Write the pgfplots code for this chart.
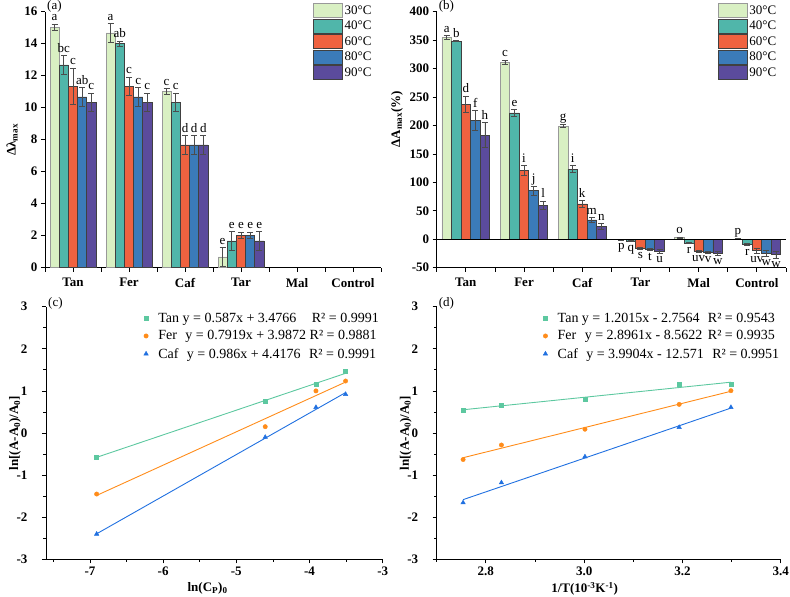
\documentclass[border=0pt]{standalone}
\usepackage{fontspec}
\setmainfont{Liberation Serif}
\usepackage{pgfplots}
\usepackage{pgfplotstable}
\pgfplotsset{compat=1.18}

\definecolor{tA}{HTML}{D9F0C3}
\definecolor{tB}{HTML}{50B6AA}
\definecolor{tC}{HTML}{EF6240}
\definecolor{tD}{HTML}{3B7BB9}
\definecolor{tE}{HTML}{5B4B9C}
\definecolor{cTan}{HTML}{5DC8A0}
\definecolor{cFer}{HTML}{FF8C1A}
\definecolor{cCaf}{HTML}{2070E0}

\newcommand{\fTick}{\fontsize{13}{15}\selectfont\bfseries}
\newcommand{\fText}{\fontsize{13}{15}\selectfont}
\newcommand{\fLeg}{\fontsize{14}{16}\selectfont}

% ---- (a) delta lambda max, one table per temperature
\pgfplotstableread{
x y e l
0 15.00 0.20 a
1 14.67 0.58 a
2 11.00 0.18 c
3 0.67 0.58 e
}\aA
\pgfplotstableread{
x y e l
0 12.67 0.58 bc
1 14.00 0.17 ab
2 10.33 0.58 c
3 1.67 0.58 e
}\aB
\pgfplotstableread{
x y e l
0 11.33 1.15 c
1 11.33 0.58 c
2 7.67 0.58 d
3 2.00 0.20 e
}\aC
\pgfplotstableread{
x y e l
0 10.67 0.58 ab
1 10.67 0.58 c
2 7.67 0.58 d
3 2.00 0.20 e
}\aD
\pgfplotstableread{
x y e l
0 10.33 0.58 c
1 10.33 0.58 c
2 7.67 0.58 d
3 1.67 0.58 e
}\aE

% ---- (b) delta A max (%)
\pgfplotstableread{
x y e l
0 355 3 a
1 311 4 c
2 199 3 g
3 -1 1 p
4 3 1 o
5 0.5 1 p
}\bA
\pgfplotstableread{
x y e l
0 348 1 b
1 222 6 e
2 123 6 i
3 -3 1 q
4 -7 1 r
5 -9 2 r
}\bB
\pgfplotstableread{
x y e l
0 237 14 d
1 121 8 i
2 62 6 k
3 -16 2 s
4 -21 2 uv
5 -20 4 uv
}\bC
\pgfplotstableread{
x y e l
0 209 17 f
1 85 8 j
2 34 4 m
3 -18 2 t
4 -23 2 v
5 -25 5 w
}\bD
\pgfplotstableread{
x y e l
0 183 22 h
1 60 7 l
2 22 5 n
3 -21 3 u
4 -25 3 w
5 -27 6 w
}\bE

% ---- (c) vs ln(Cp)0
\pgfplotstableread{
x tan fer caf
-6.908 -0.57 -1.45 -2.40
-4.605 0.76 0.15 -0.10
-3.912 1.16 1.00 0.61
-3.507 1.46 1.235 0.92
}\cDat
\pgfplotstableread{
x tan fer caf
-6.908 -0.578 -1.483 -2.394
-3.507 1.418 1.210 0.960
}\cFit

% ---- (d) vs 1/T
\pgfplotstableread{
x tan fer caf
2.7537 0.546 -0.63 -1.655
2.8317 0.665 -0.285 -1.18
3.0017 0.80 0.09 -0.563
3.1934 1.164 0.68 0.135
3.2987 1.157 1.005 0.61
}\dDat
\pgfplotstableread{
x tan fer caf
2.7537 0.552 -0.587 -1.583
3.2987 1.207 0.991 0.592
}\dFit

\pgfplotsset{
  base/.style={scale only axis, axis lines*=left, tick align=outside, clip=false,
    axis line style={line width=0.9pt},
    every tick/.style={black, line width=0.8pt},
    major tick length=4pt, minor tick length=2.5pt,
    tick label style={font=\fTick},
    label style={font=\fTick},
    /pgf/number format/assume math mode=true},
  bars/.style={base, xmin=-0.5, xmax=5.5, xtick={0,...,5},
    xticklabels={Tan,Fer,Caf,Tar,Mal,Control},
    minor xtick={-0.5,0.5,...,5.5}, minor tick length=4pt,
    xticklabel style={yshift=-3pt},
    error bars/error bar style={line width=0.8pt, black!70},
    error bars/error mark options={rotate=90, mark size=3pt, line width=0.8pt, black!70},
    legend style={draw=none, fill=none, font=\fText, inner sep=0pt, row sep=0.7pt,
      anchor=north west, nodes={inner xsep=1.5pt, inner ysep=0.5pt}},
    legend cell align=left},
  s1/.style={fill=tA, draw=black!40, line width=0.8pt},
  s2/.style={fill=tB, draw=black!75, line width=0.8pt},
  s3/.style={fill=tC, draw=black!75, line width=0.8pt},
  s4/.style={fill=tD, draw=black!75, line width=0.8pt},
  s5/.style={fill=tE, draw=black!75, line width=0.8pt},
  lines/.style={base, ymin=-3, ymax=3, ytick={-3,...,3}, minor y tick num=1,
    yticklabel style={xshift=-11pt},
    ylabel={ln[(A-A\textsubscript{0})/A\textsubscript{0}]},
    every axis y label/.style={at={([xshift=-31pt]rel axis cs:0,0.5)}, rotate=90,
      anchor=center, font=\fTick},
    legend style={draw=none, fill=none, font=\fLeg, inner sep=0pt, row sep=4.8pt,
      column sep=7pt, anchor=north west, nodes={inner xsep=3pt, inner ysep=1pt}},
    legend cell align=left},
}

% bars of one temperature plus the letters above / below the error bars
\newcommand{\barset}[3]{%
  \addplot[#3, ybar, bar width=0.164, bar shift=0pt,
    error bars/.cd, y dir=both, y explicit]
    table[x expr=\thisrow{x}+#2, y=y, y error=e] {#1};
  \addplot[draw=none, mark=none, forget plot, nodes near coords,
    point meta=explicit symbolic,
    visualization depends on={\thisrow{y} \as \yy},
    every node near coord/.append style={font=\fText, inner sep=0pt, anchor=center,
      text height=0.7em, text depth=0.2em,
      yshift={ifthenelse(\yy<0,-7,6)*1pt}}]
    table[x expr=\thisrow{x}+#2,
      y expr={\thisrow{y}+ifthenelse(\thisrow{y}<0,-1,1)*\thisrow{e}}, meta=l] {#1};
}

\begin{document}
\begin{tikzpicture}
\useasboundingbox (0pt,0pt) rectangle (790pt,597pt);

% (a)
\begin{axis}[bars, at={(45pt,329.3pt)}, anchor=south west, width=336pt, height=256pt,
  ymin=0, ymax=16, ytick={0,2,...,16},
  ylabel={Δλ\textsubscript{max}},
  legend image code/.code={\draw[#1] (0pt,-7pt) rectangle (29pt,7pt);},
  legend style={at={(rel axis cs:0.798,1.034)}}]
\barset{\aA}{(-0.328)}{s1}
\barset{\aB}{(-0.164)}{s2}
\barset{\aC}{0}{s3}
\barset{\aD}{0.164}{s4}
\barset{\aE}{0.328}{s5}
\legend{30°C,40°C,60°C,80°C,90°C}
\node[anchor=west, font=\fText, inner sep=0pt, yshift=5.5pt, xshift=2pt] at (rel axis cs:0,1) {(a)};
\end{axis}

% (b)
\begin{axis}[bars, at={(436.7pt,329.3pt)}, anchor=south west, width=349.3pt, height=256pt,
  ymin=-50, ymax=400, ytick={-50,0,...,400},
  ylabel={ΔA\textsubscript{max}(\%)},
  ylabel style={at={(ticklabel cs:0.58)}},
  legend image code/.code={\draw[#1] (0pt,-7pt) rectangle (29pt,7pt);},
  legend style={at={(rel axis cs:0.805,1.034)}}]
\barset{\bA}{(-0.328)}{s1}
\barset{\bB}{(-0.164)}{s2}
\barset{\bC}{0}{s3}
\barset{\bD}{0.164}{s4}
\barset{\bE}{0.328}{s5}
\draw[line width=0.8pt] (axis cs:-0.5,0) -- (axis cs:5.5,0);
\legend{30°C,40°C,60°C,80°C,90°C}
\node[anchor=west, font=\fText, inner sep=0pt, yshift=5.5pt, xshift=2pt] at (rel axis cs:0,1) {(b)};
\end{axis}

% (c)
\begin{axis}[lines, at={(46pt,37.7pt)}, anchor=south west, width=336.7pt, height=252.6pt,
  xmin=-7.6, xmax=-3, xtick={-7,...,-3}, minor xtick={-7.5,-6.5,...,-3.5},
  xlabel={ln(C\textsubscript{P})\textsubscript{0}},
  xlabel style={at={(ticklabel cs:0.48)}},
  legend style={at={(rel axis cs:0.29,0.98)}}]
\addplot[only marks, mark=square*, mark size=2pt, cTan] table[x=x, y=tan] {\cDat};
\addplot[only marks, mark=*, mark size=2.2pt, cFer] table[x=x, y=fer] {\cDat};
\addplot[only marks, mark=triangle*, mark size=2.6pt, cCaf] table[x=x, y=caf] {\cDat};
\addplot[cTan, line width=0.9pt, forget plot] table[x=x, y=tan] {\cFit};
\addplot[cFer, line width=0.9pt, forget plot] table[x=x, y=fer] {\cFit};
\addplot[cCaf, line width=0.9pt, forget plot] table[x=x, y=caf] {\cFit};
\legend{Tan y = 0.587x + 3.4766\hspace{1.1em}R² = 0.9991,
        Fer\hspace{0.6em}y = 0.7919x + 3.9872 R² = 0.9881,
        Caf\hspace{0.6em}y = 0.986x + 4.4176\hspace{0.6em}R² = 0.9991}
\node[anchor=west, font=\fText, inner sep=0pt, yshift=3pt, xshift=2pt] at (rel axis cs:0,1) {(c)};
\end{axis}

% (d)
\begin{axis}[lines, at={(436.7pt,37.7pt)}, anchor=south west, width=344pt, height=252.6pt,
  xmin=2.7, xmax=3.4, xtick={2.8,3.0,3.2,3.4}, minor xtick={2.7,2.9,3.1,3.3},
  xticklabel style={/pgf/number format/.cd, fixed, fixed zerofill, precision=1},
  xlabel={1/T(10\textsuperscript{-3}K\textsuperscript{-1})},
  xlabel style={at={(ticklabel cs:0.43)}},
  legend style={at={(rel axis cs:0.309,0.98)}}]
\addplot[only marks, mark=square*, mark size=2pt, cTan] table[x=x, y=tan] {\dDat};
\addplot[only marks, mark=*, mark size=2.2pt, cFer] table[x=x, y=fer] {\dDat};
\addplot[only marks, mark=triangle*, mark size=2.6pt, cCaf] table[x=x, y=caf] {\dDat};
\addplot[cTan, line width=0.9pt, forget plot] table[x=x, y=tan] {\dFit};
\addplot[cFer, line width=0.9pt, forget plot] table[x=x, y=fer] {\dFit};
\addplot[cCaf, line width=0.9pt, forget plot] table[x=x, y=caf] {\dFit};
\legend{Tan y = 1.2015x - 2.7564\hspace{0.6em}R² = 0.9543,
        Fer\hspace{0.6em}y = 2.8961x - 8.5622\hspace{0.4em}R² = 0.9935,
        Caf\hspace{0.6em}y = 3.9904x - 12.571\hspace{0.6em}R² = 0.9951}
\node[anchor=west, font=\fText, inner sep=0pt, yshift=3pt, xshift=2pt] at (rel axis cs:0,1) {(d)};
\end{axis}
\end{tikzpicture}
\end{document}
